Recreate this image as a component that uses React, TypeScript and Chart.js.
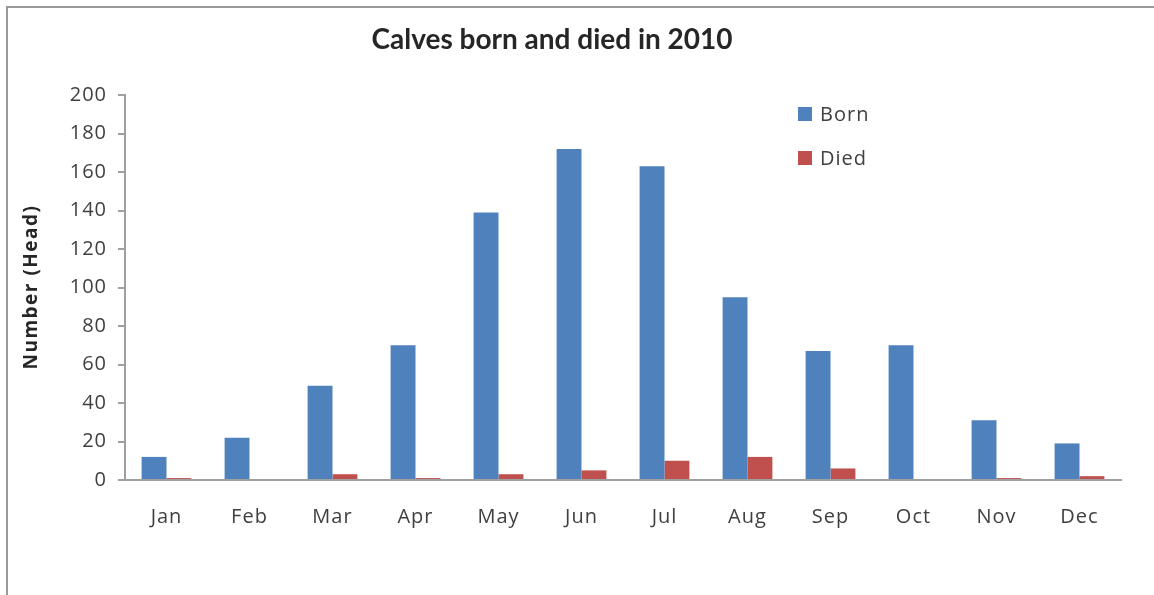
import React, { useEffect, useRef } from "react";
import { Chart, registerables } from "chart.js";

Chart.register(...registerables);

const months = ["Jan", "Feb", "Mar", "Apr", "May", "Jun", "Jul", "Aug", "Sep", "Oct", "Nov", "Dec"];
const born = [12, 22, 49, 70, 139, 172, 163, 95, 67, 70, 31, 19];
const died = [1, 0, 3, 1, 3, 5, 10, 12, 6, 0, 1, 2];
const yTicks = [0, 20, 40, 60, 80, 100, 120, 140, 160, 180, 200];
const titleText = "Calves born and died in 2010";
const yTitleText = "Number (Head)";

const FONT = "'Open Sans', Lato, sans-serif";
const TITLE_FONT = "Lato, 'Open Sans', sans-serif";

const decorPlugin = {
  id: "decor",
  beforeDraw(chart: any) {
    const ctx = chart.ctx;
    ctx.save();
    ctx.fillStyle = "#ffffff";
    ctx.fillRect(0, 0, chart.width, chart.height);
    ctx.strokeStyle = "#9a9a9a";
    ctx.lineWidth = 2;
    ctx.beginPath();
    ctx.moveTo(7, chart.height + 5);
    ctx.lineTo(7, 7);
    ctx.lineTo(chart.width + 5, 7);
    ctx.stroke();
    ctx.restore();
    (ctx as any).letterSpacing = "1px";
  },
  afterDraw(chart: any) {
    const ctx = chart.ctx;
    ctx.save();
    (ctx as any).letterSpacing = "0px";
    ctx.fillStyle = "#262626";
    ctx.font = `bold 28px ${TITLE_FONT}`;
    ctx.textAlign = "center";
    ctx.textBaseline = "middle";
    ctx.fillText(titleText, 552, 40);

    ctx.translate(32, 287);
    ctx.rotate(-Math.PI / 2);
    (ctx as any).letterSpacing = "1.5px";
    ctx.font = `bold 19px ${FONT}`;
    ctx.fillText(yTitleText, 0, 0);
    ctx.restore();

    // legend
    ctx.save();
    (ctx as any).letterSpacing = "1px";
    const items = chart.data.datasets;
    items.forEach((ds: any, i: number) => {
      const y = 114 + i * 44;
      ctx.fillStyle = ds.backgroundColor;
      ctx.fillRect(798, y - 7, 14, 14);
      ctx.fillStyle = "#404040";
      ctx.font = `20px ${FONT}`;
      ctx.textAlign = "left";
      ctx.textBaseline = "middle";
      ctx.fillText(ds.label, 820, y + 1);
    });
    ctx.restore();
  },
};

export default function App() {
  const ref = useRef<HTMLCanvasElement | null>(null);
  useEffect(() => {
    if (!ref.current) return;
    const chart = new Chart(ref.current, {
      type: "bar",
      data: {
        labels: months,
        datasets: [
          { label: "Born", data: born, backgroundColor: "#4F81BD" },
          { label: "Died", data: died, backgroundColor: "#C0504D" },
        ],
      },
      options: {
        animation: false,
        responsive: false,
        maintainAspectRatio: false,
        layout: { padding: { top: 95, right: 33, left: 0, bottom: 0 } },
        datasets: { bar: { categoryPercentage: 0.6, barPercentage: 1.0 } },
        plugins: {
          legend: { display: false },
          title: { display: false },
          tooltip: { enabled: false },
        },
        scales: {
          x: {
            grid: { display: true, drawOnChartArea: false, drawTicks: false },
            border: { display: true, color: "#a0a0a0", width: 2 },
            ticks: { color: "#404040", font: { family: FONT, size: 20 }, padding: 25 },
            afterFit: (s: any) => {
              s.height = 115;
            },
          },
          y: {
            min: 0,
            max: 200,
            afterBuildTicks: (s: any) => {
              s.ticks = yTicks.map((v) => ({ value: v }));
            },
            grid: { display: true, drawOnChartArea: false, drawTicks: true, tickLength: 7, color: "#a0a0a0", lineWidth: 2 },
            border: { display: true, color: "#a0a0a0", width: 2 },
            ticks: { color: "#404040", font: { family: FONT, size: 20 }, padding: 11 },
            afterFit: (s: any) => {
              s.width = 125;
            },
          },
        },
      },
      plugins: [decorPlugin],
    });
    return () => chart.destroy();
  }, []);
  return (
    <div style={{ position: "absolute", left: 0, top: 0, width: 1154, height: 595 }}>
      <canvas ref={ref} width={1154} height={595} style={{ width: 1154, height: 595 }} />
    </div>
  );
}
